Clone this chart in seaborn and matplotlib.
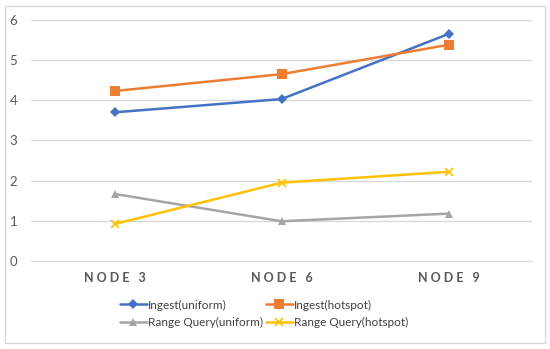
import matplotlib
matplotlib.use('Agg')

import matplotlib.pyplot as plt
import matplotlib.patches as mpatches
import seaborn as sns
import pandas as pd

nodes = ['NODE 3', 'NODE 6', 'NODE 9']
series_names = ['Ingest(uniform)', 'Ingest(hotspot)', 'Range Query(uniform)', 'Range Query(hotspot)']
ingest_uniform = [3.70, 4.03, 5.65]
ingest_hotspot = [4.23, 4.65, 5.38]
range_uniform = [1.67, 0.99, 1.18]
range_hotspot = [0.92, 1.95, 2.22]
y_ticks = [0, 1, 2, 3, 4, 5, 6]

colors = ['#4472C4', '#ED7D31', '#A5A5A5', '#FFC000']
markers = ['D', 's', '^', 'x']
marker_sizes = [5, 7, 6, 6]

rows = []
for name, vals in zip(series_names, [ingest_uniform, ingest_hotspot, range_uniform, range_hotspot]):
    for node, v in zip(nodes, vals):
        rows.append({'node': node, 'value': v, 'series': name})
df = pd.DataFrame(rows)

sns.set_style('white')
plt.rcParams['font.family'] = ['Lato', 'DejaVu Sans']

fig = plt.figure(figsize=(5.5, 3.49), dpi=100)
ax = fig.add_axes([0.0564, 0.252, 0.911, 0.691])

for name, color, mk, ms in zip(series_names, colors, markers, marker_sizes):
    sub = df[df['series'] == name]
    sns.lineplot(data=sub, x='node', y='value', ax=ax, color=color, marker=mk,
                 markersize=ms, markeredgecolor=color, markeredgewidth=1.2 if mk == 'x' else 0,
                 linewidth=1.8, label=name)

ax.set_ylim(0, 6)
ax.set_xlim(-0.5, 2.5)
ax.set_yticks(y_ticks)
ax.set_yticklabels([str(t) for t in y_ticks], fontsize=9.5, color='#595959')
ax.set_xticks(range(len(nodes)))
# letter-spaced labels like the original
ax.set_xticklabels([' '.join(n) for n in nodes],
                   fontsize=9, color='#595959', fontweight='bold')
ax.tick_params(axis='x', length=0, pad=8)
ax.tick_params(axis='y', length=0, pad=10)
ax.set_xlabel('')
ax.set_ylabel('')
ax.grid(axis='y', color='#D9D9D9', linewidth=1)
for s in ['top', 'right', 'left']:
    ax.spines[s].set_visible(False)
ax.spines['bottom'].set_color('#D9D9D9')

handles, labels = ax.get_legend_handles_labels()
order = [0, 2, 1, 3]
ax.legend([handles[i] for i in order], [labels[i] for i in order], ncol=2,
          loc='upper center', bbox_to_anchor=(0.465, -0.125), frameon=False,
          fontsize=8.5, handlelength=2.3, columnspacing=0.2, handletextpad=0.1,
          labelspacing=0.55, labelcolor='#404040', borderpad=0.2)

fig.patches.append(mpatches.Rectangle((5 / 550, 6 / 349), 540 / 550, 337 / 349,
                                      transform=fig.transFigure, fill=False,
                                      edgecolor='#D9D9D9', linewidth=1))

fig.savefig('out.png', dpi=100)
